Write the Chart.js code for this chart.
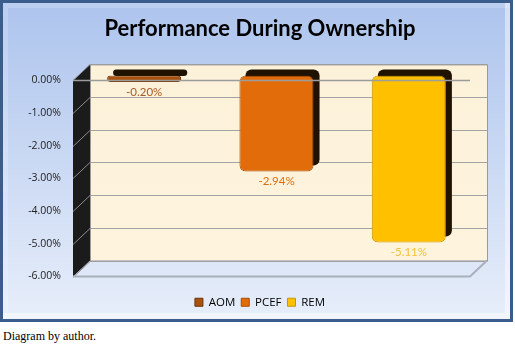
<!DOCTYPE html>
<html>
<head>
<meta charset="utf-8">
<script src="https://cdn.jsdelivr.net/npm/chart.js@4"></script>
<style>
  body { margin: 0; background: #fff; }
  #frame {
    position: absolute; left: 0; top: 0; width: 507px; height: 316px;
    border: 3px solid #3b5d8b;
    background: linear-gradient(#adc4ed, #e7eefa);
    box-shadow: inset 5px 5px 0 rgba(255,255,255,0.18), inset -5px -6px 0 rgba(255,255,255,0.45);
  }
  #chart { position: absolute; left: 0; top: 0; }
  #caption {
    position: absolute; left: 3px; top: 329px;
    font: 12px "Liberation Serif", serif; color: #000;
  }
</style>
</head>
<body>
<div id="frame"><canvas id="chart" width="507" height="316"></canvas></div>
<div id="caption">Diagram by author.</div>
<script>
const categories = ["AOM", "PCEF", "REM"];
const values = [-0.20, -2.94, -5.11];
const faceColors = ["#a8520f", "#e36c0a", "#ffc000"];
const edgeColors = ["#6b3006", "#a94c05", "#c99600"];
const labelColors = ["#a85a22", "#e36c0a", "#f2c13c"];
const yMin = -6;
const yMax = 0;

// 3D look: back wall offset and bar offset
const DX = 17, DY = -16;
const BX = 5, BY = -5;

const depth = {
  id: "depth",
  beforeDatasetsDraw(chart) {
    const { ctx, chartArea: a, scales: { y } } = chart;
    ctx.save();
    // back wall
    const g = ctx.createLinearGradient(0, a.top + DY, 0, a.bottom + DY);
    g.addColorStop(0, "#fcf1d9");
    g.addColorStop(1, "#fef3dc");
    ctx.fillStyle = g;
    ctx.fillRect(a.left + DX, a.top + DY, a.right - a.left, a.bottom - a.top);
    // side wall
    ctx.fillStyle = "#1b1b1b";
    ctx.beginPath();
    ctx.moveTo(a.left, a.top);
    ctx.lineTo(a.left + DX, a.top + DY);
    ctx.lineTo(a.left + DX, a.bottom + DY);
    ctx.lineTo(a.left, a.bottom);
    ctx.closePath();
    ctx.fill();
    // gridlines
    ctx.lineWidth = 1;
    for (let v = yMax; v >= yMin; v--) {
      const py = Math.round(y.getPixelForValue(v)) + 0.5;
      ctx.strokeStyle = "#a3a3a3";
      ctx.beginPath();
      ctx.moveTo(a.left + DX, py + DY);
      ctx.lineTo(a.right + DX, py + DY);
      ctx.stroke();
      ctx.strokeStyle = "#8c8c8c";
      ctx.beginPath();
      ctx.moveTo(a.left, py);
      ctx.lineTo(a.left + DX, py + DY);
      ctx.stroke();
    }
    // back wall outline
    ctx.strokeStyle = "#9a9a9a";
    ctx.strokeRect(a.left + DX + 0.5, a.top + DY + 0.5, a.right - a.left, a.bottom - a.top);
    // floor edges
    ctx.strokeStyle = "#a9b0bb";
    ctx.lineWidth = 2;
    ctx.beginPath();
    ctx.moveTo(a.left, a.bottom);
    ctx.lineTo(a.right, a.bottom);
    ctx.lineTo(a.right + DX, a.bottom + DY);
    ctx.stroke();
    ctx.restore();

    // bar depth (dark back faces)
    ctx.save();
    ctx.translate(BX, BY);
    chart.data.datasets.forEach((ds, i) => {
      chart.getDatasetMeta(i).data.forEach(bar => {
        ctx.fillStyle = "#1f1200";
        ctx.beginPath();
        ctx.roundRect(bar.x - bar.width / 2 + 6, bar.base - 6, bar.width, bar.y - bar.base, 6);
        ctx.fill();
      });
    });
  },
  afterDatasetsDraw(chart) {
    const { ctx, chartArea: a, scales: { y } } = chart;
    ctx.restore();
    ctx.save();
    // zero line in front
    const y0 = Math.round(y.getPixelForValue(0)) + 0.5;
    ctx.strokeStyle = "#9c9c9c";
    ctx.lineWidth = 1.5;
    ctx.beginPath();
    ctx.moveTo(a.left, y0);
    ctx.lineTo(a.right, y0);
    ctx.stroke();
    // value labels
    ctx.font = "11.5px Lato";
    ctx.textAlign = "center";
    ctx.textBaseline = "middle";
    chart.data.datasets.forEach((ds, i) => {
      chart.getDatasetMeta(i).data.forEach((bar, j) => {
        ctx.fillStyle = labelColors[i];
        ctx.fillText(ds.data[j].toFixed(2) + "%", bar.x + BX, bar.y + BY + 10);
      });
    });
    ctx.restore();
  }
};

new Chart(document.getElementById("chart"), {
  type: "bar",
  data: {
    labels: [""],
    datasets: categories.map((c, i) => ({
      label: c,
      data: [values[i]],
      backgroundColor: faceColors[i],
      borderColor: edgeColors[i],
      borderWidth: 1,
      borderRadius: 6,
      borderSkipped: false,
      categoryPercentage: 1,
      barPercentage: 0.56
    }))
  },
  options: {
    responsive: false,
    animation: false,
    layout: { padding: { left: 10, right: 3, top: 0, bottom: 1 } },
    plugins: {
      title: {
        display: true,
        text: "Performance During Ownership",
        color: "#000",
        font: { family: "Lato", size: 22, weight: "bold" },
        padding: { top: 13, bottom: 38 }
      },
      legend: {
        position: "bottom",
        labels: {
          boxWidth: 8, boxHeight: 8, padding: 6,
          color: "#000",
          font: { family: "Open Sans", size: 11.5 }
        }
      },
      tooltip: { enabled: false }
    },
    scales: {
      x: {
        grid: { display: false },
        border: { display: false },
        ticks: { display: false },
        afterFit: s => { s.height = 14; }
      },
      y: {
        min: yMin, max: yMax,
        grid: { display: false, drawTicks: false },
        border: { display: false },
        ticks: {
          stepSize: 1, padding: 12,
          color: "#222",
          font: { family: "Open Sans", size: 10.5 },
          callback: v => v.toFixed(2) + "%"
        },
        afterFit: s => { s.width = 60; }
      },
      yRight: {
        position: "right",
        min: yMin, max: yMax,
        grid: { display: false, drawTicks: false },
        border: { display: false },
        ticks: { display: false },
        afterFit: s => { s.width = 37; }
      }
    }
  },
  plugins: [depth]
});
</script>
</body>
</html>
